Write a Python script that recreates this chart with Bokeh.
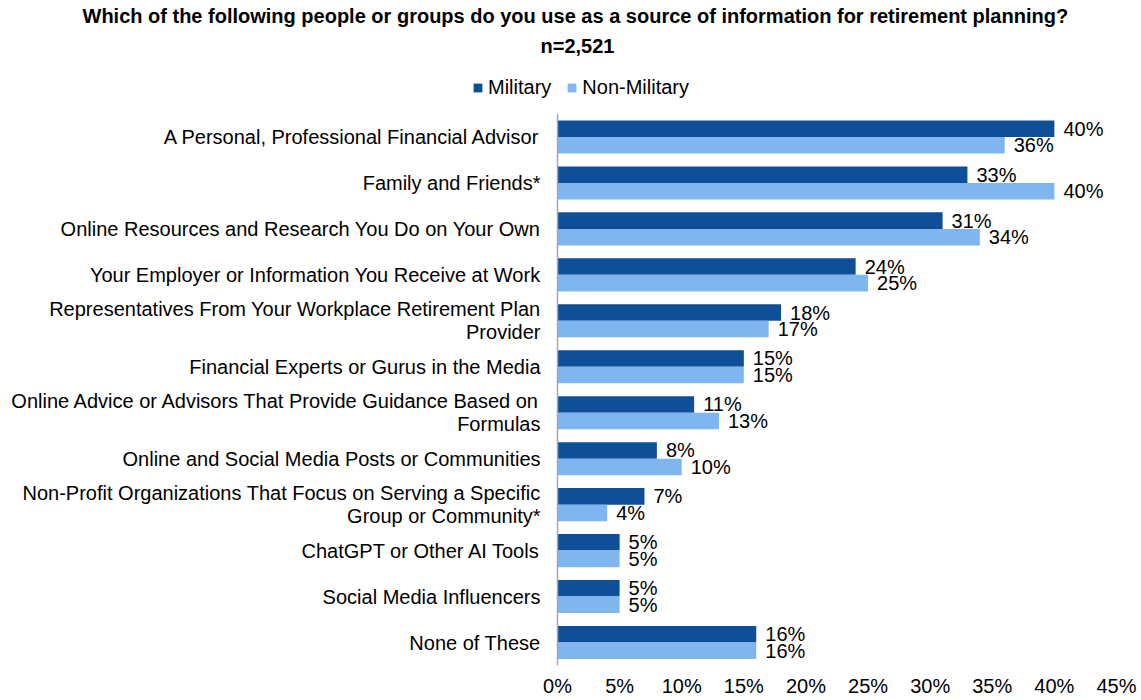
from bokeh.plotting import figure
from bokeh.models import (ColumnDataSource, Range1d, FixedTicker, PrintfTickFormatter,
                          Legend, LegendItem, Title)
from bokeh.core.properties import value
from bokeh.transform import dodge
from bokeh.embed import file_html
from bokeh.resources import INLINE

# ---------------- data ----------------
categories = [
    "A Personal, Professional Financial Advisor",
    "Family and Friends*",
    "Online Resources and Research You Do on Your Own",
    "Your Employer or Information You Receive at Work",
    "Representatives From Your Workplace Retirement Plan\nProvider",
    "Financial Experts or Gurus in the Media",
    "Online Advice or Advisors That Provide Guidance Based on\nFormulas",
    "Online and Social Media Posts or Communities",
    "Non-Profit Organizations That Focus on Serving a Specific\nGroup or Community*",
    "ChatGPT or Other AI Tools",
    "Social Media Influencers",
    "None of These",
]
military = [40, 33, 31, 24, 18, 15, 11, 8, 7, 5, 5, 16]
non_military = [36, 40, 34, 25, 17, 15, 13, 10, 4, 5, 5, 16]
series_names = ["Military", "Non-Military"]
x_ticks = [0, 5, 10, 15, 20, 25, 30, 35, 40, 45]
x_max = 45
title_line1 = "Which of the following people or groups do you use as a source of information for retirement planning?"
title_line2 = "n=2,521"

# ---------------- layout / style ----------------
W, H = 1141, 700
AXIS_PX = 557          # pixel column of the 0% axis
END_PX = 1116          # pixel column of the 45% tick
PLOT_TOP_PX = 113.5    # top of the category area
PLOT_BOT_PX = 665      # bottom of the category area
FRAME_TOP_PX = 60      # frame top (below the two title panels)
FONT = "Liberation Sans"
FS = "20px"
TFS = "20px"
DARK = "#0F4F98"
LIGHT = "#80B6F0"
AXIS_GREY = "#A6A6A6"
BAR_H = 0.36

n = len(categories)
idx = list(range(n))
px_per_unit = (END_PX - AXIS_PX) / x_max
pitch = (PLOT_BOT_PX - PLOT_TOP_PX) / n

src = ColumnDataSource(dict(
    idx=idx,
    zero=[0] * n,
    cat=categories,
    military=military,
    non_military=non_military,
    mil_label=[f"{v}%" for v in military],
    non_label=[f"{v}%" for v in non_military],
))

p = figure(width=W, height=H, output_backend="svg", toolbar_location=None,
           x_range=Range1d(-AXIS_PX / px_per_unit, x_max + (W - END_PX) / px_per_unit),
           y_range=Range1d(n - 0.5, -0.5 - (PLOT_TOP_PX - FRAME_TOP_PX) / pitch),
           y_axis_location=None,
           min_border_left=0, min_border_right=0, min_border_top=0,
           min_border_bottom=H - PLOT_BOT_PX, outline_line_color=None)
p.background_fill_color = "white"
p.border_fill_color = "white"
p.xgrid.visible = False
p.ygrid.visible = False

r_mil = p.hbar(y=dodge("idx", -BAR_H / 2), left=0, right="military", height=BAR_H,
               fill_color=DARK, line_color=None, source=src)
r_non = p.hbar(y=dodge("idx", BAR_H / 2), left=0, right="non_military", height=BAR_H,
               fill_color=LIGHT, line_color=None, source=src)

# vertical category axis line
p.segment(x0=0, y0=idx[0] - 0.5, x1=0, y1=idx[-1] + 0.5,
          line_color=AXIS_GREY, line_width=1.5)

# category labels
p.text(x="zero", y="idx", text="cat", source=src, x_offset=-17,
       text_align="right", text_baseline="middle", text_line_height=1.06,
       text_font=value(FONT), text_font_size=FS, text_color="black")

# value labels
p.text(x="military", y=dodge("idx", -BAR_H / 2), text="mil_label", source=src,
       x_offset=9, text_baseline="middle", text_align="left",
       text_font=value(FONT), text_font_size=FS, text_color="black")
p.text(x="non_military", y=dodge("idx", BAR_H / 2), text="non_label", source=src,
       x_offset=9, text_baseline="middle", text_align="left",
       text_font=value(FONT), text_font_size=FS, text_color="black")

# x axis
xa = p.xaxis[0]
xa.ticker = FixedTicker(ticks=x_ticks)
xa.formatter = PrintfTickFormatter(format="%d%%")
xa.axis_line_color = None
xa.major_tick_in = 0
xa.major_tick_out = 0
xa.minor_tick_line_color = None
xa.major_label_standoff = 9
xa.major_label_text_font = FONT
xa.major_label_text_font_size = FS
xa.major_label_text_color = "black"

# legend
legend = Legend(items=[LegendItem(label=series_names[0], renderers=[r_mil]),
                       LegendItem(label=series_names[1], renderers=[r_non])],
                orientation="horizontal", location=(472, PLOT_BOT_PX - 99),
                glyph_width=11, glyph_height=11, label_standoff=5, spacing=15,
                padding=0, margin=0, border_line_color=None,
                background_fill_alpha=0,
                label_text_font=FONT, label_text_font_size=FS,
                label_text_color="black")
p.add_layout(legend, "center")

# titles (two lines)
p.add_layout(Title(text=title_line2, align="left", offset=540, standoff=8,
                   text_font=FONT, text_font_size=TFS, text_font_style="bold",
                   text_color="black"), "above")
p.title.text = title_line1
p.title.align = "left"
p.title.offset = 82
p.title.standoff = 4
p.title.text_font = FONT
p.title.text_font_size = TFS
p.title.text_font_style = "bold"
p.title.text_color = "black"

open("out.html", "w").write(file_html(p, INLINE))
